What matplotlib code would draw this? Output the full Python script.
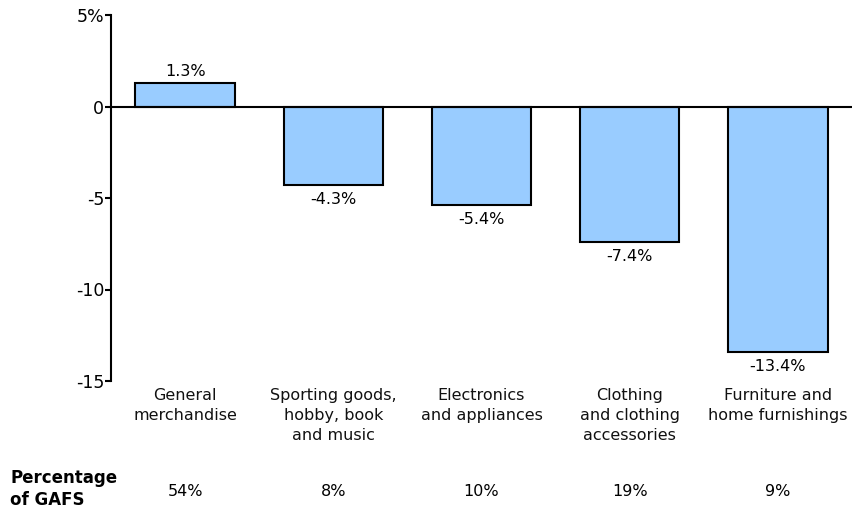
import matplotlib
matplotlib.use("Agg")
import matplotlib.pyplot as plt

categories = ["General\nmerchandise", "Sporting goods,\nhobby, book\nand music",
              "Electronics\nand appliances", "Clothing\nand clothing\naccessories",
              "Furniture and\nhome furnishings"]
values = [1.3, -4.3, -5.4, -7.4, -13.4]
value_labels = ["1.3%", "-4.3%", "-5.4%", "-7.4%", "-13.4%"]
share_labels = ["54%", "8%", "10%", "19%", "9%"]
yticks = [5, 0, -5, -10, -15]
ytick_labels = ["5%", "0", "-5", "-10", "-15"]

plt.rcParams['font.family'] = ['DejaVu Sans']

fig = plt.figure(figsize=(8.52, 5.12), dpi=100)
ax = fig.add_axes([111/852, 1-381/512, (852-111)/852, (381-15)/512])

x = list(range(len(values)))
ax.bar(x, values, width=0.67, color="#99CCFF", edgecolor="black", linewidth=1.5, zorder=2)
ax.axhline(0, color="black", linewidth=1.5, zorder=3)

ax.set_xlim(-0.5, 4.5)
ax.set_ylim(-15, 5)
ax.set_yticks(yticks)
ax.set_yticklabels(ytick_labels, fontsize=12.5)
ax.tick_params(axis='y', direction='out', length=4, width=1.5, pad=1)
ax.set_xticks([])
for s in ["top", "right", "bottom"]:
    ax.spines[s].set_visible(False)
ax.spines["left"].set_linewidth(1.5)

for xi, v, lab in zip(x, values, value_labels):
    if v >= 0:
        ax.annotate(lab, (xi, v), xytext=(0, 3), textcoords="offset points",
                    ha="center", va="bottom", fontsize=11.5)
    else:
        ax.annotate(lab, (xi, v), xytext=(0, -5), textcoords="offset points",
                    ha="center", va="top", fontsize=11.5)

trans = ax.get_xaxis_transform()
for xi, cat in zip(x, categories):
    ax.text(xi, -0.02, cat, transform=trans, ha="center", va="top", fontsize=11.5,
            linespacing=1.4, color="#111111")

for xi, s in zip(x, share_labels):
    fig.text((111 + (xi + 0.5) * 148.2) / 852, 1 - 491/512, s, ha="center", va="center", fontsize=11.5)

fig.text(10/852, 1 - 489/512, "Percentage\nof GAFS", ha="left", va="center",
         fontsize=12, fontweight="bold", linespacing=1.35)

fig.savefig("out.png", dpi=100)
